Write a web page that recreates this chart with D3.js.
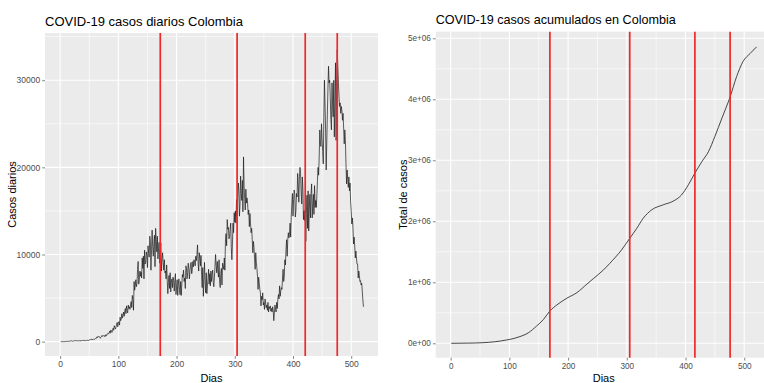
<!DOCTYPE html>
<html>
<head>
<meta charset="utf-8">
<script src="https://cdn.jsdelivr.net/npm/d3@7"></script>
<style>
    body { margin: 0; background: #fff; }
    svg text { font-family: 'Liberation Sans', Arial, sans-serif; }
</style>
</head>
<body>
<div id="vis"></div>
<script>
// casos diarios, dia 1 .. 521
var casosDiarios = [
    1,0,0,0,2,0,6,0,9,8,
    15,20,36,37,30,38,79,71,75,101,
    46,49,80,93,94,103,131,96,81,98,
    90,98,61,146,91,110,117,130,113,167,
    78,120,75,131,120,191,144,101,136,215,
    208,236,253,279,180,269,300,234,267,319,
    376,360,542,470,600,520,595,490,380,510,
    563,720,600,630,705,680,560,786,650,712,
    923,868,890,1018,1200,960,1340,1250,1056,1280,
    1540,1300,1820,1600,1450,1700,2000,2200,1700,2100,
    2300,1900,2800,2400,2600,3200,2700,3000,3400,2900,
    3500,3800,3200,4100,3600,3300,4200,3800,4000,3700,
    4200,4600,3900,5300,4800,3600,6900,5900,6400,7100,
    6300,6700,8300,9200,6600,7100,8100,7500,8000,7300,
    9600,8400,9800,7200,10500,8900,9100,10300,9900,8500,
    11000,10100,9700,12100,11500,8200,10600,12800,10900,9800,
    11300,12200,8600,13000,11700,10300,12100,9500,10700,11400,
    9000,10500,11300,8100,9500,10200,9100,8200,9400,7900,
    8100,7200,8800,7000,5500,6800,7600,6100,7900,5700,
    6800,7200,6200,7400,7000,5800,6900,7800,5400,6300,
    7100,5300,6600,7200,6000,5400,6900,5300,6500,7700,
    7400,8200,6900,7300,6100,8700,8500,7200,7900,9000,
    8400,7200,8100,8800,9100,7800,8300,9200,8600,9400,
    9100,8700,9800,9300,10000,11100,9000,8100,10200,9600,
    8700,9900,7600,6200,8500,5200,7300,9100,6800,5600,
    7900,5500,6400,7200,8300,6600,7800,6400,8100,6900,
    7700,8200,6800,6300,7400,8600,10000,8800,7900,9200,
    8100,7400,9400,6800,6200,7900,8400,6500,9000,8700,
    8300,9600,8200,11700,12400,11000,14000,12900,13100,11800,
    12000,12900,13600,10800,9400,11300,13600,12500,14800,13700,
    15000,13600,16300,14400,16600,18200,17300,14400,15800,19000,
    17000,16200,18500,14900,21200,17800,16400,15100,17500,15900,
    16500,15900,14600,15100,13200,14700,13600,12500,13000,11700,
    10200,11500,10800,9500,8300,10200,9100,8400,7500,6000,
    7400,6700,6000,5600,4100,5200,4800,5600,4200,4500,
    3700,4900,4400,3900,4200,3600,4500,3400,4000,3800,
    4100,3500,3800,3400,4000,3600,2400,3300,4200,3700,
    3400,4500,3800,4900,5400,4900,6400,5200,5800,6200,
    6000,7300,8300,6900,7500,9400,8800,10600,11700,9800,
    11700,12500,11900,12300,13600,12000,14400,15800,17000,14400,
    16300,17400,16900,14300,15000,17000,16600,19300,18100,16000,
    18900,20000,19300,17200,15800,18900,17500,14000,15000,13900,
    15100,11500,14700,16800,13000,17300,12700,15200,16900,14200,
    17000,18100,14200,15800,16900,14600,17900,15400,16200,15400,
    16800,18500,20000,19100,21200,24300,22600,22400,25000,23100,
    21800,20400,25800,30000,27300,24300,19700,22800,26100,29000,
    31600,29700,30000,28100,25500,24300,29700,27100,25800,30000,
    23500,27600,32000,23100,30100,33500,31400,29700,28100,27000,
    27400,26200,27000,26500,25400,26200,24500,22700,24300,23100,
    20400,18100,19700,18600,17700,18900,17300,18200,16000,15000,
    13500,14200,13100,11200,12000,11000,9600,10400,9600,8900,
    8900,7300,8100,7600,6900,7000,6500,6700,5800,4800,4000
];

// casos acumulados
var acumDias = [1, 30, 55, 75, 95, 108, 118, 132, 146, 158, 169, 181, 198, 215, 232, 243, 260, 271,
    291, 305, 317, 328, 342, 362, 379, 393, 405, 416, 428, 439, 450, 462, 476, 487, 498, 510, 521];
var acumCasos = [0, 3000, 10000, 25000, 54000, 80000, 110000, 170000, 280000, 390000, 530000, 630000,
    740000, 830000, 970000, 1060000, 1200000, 1310000, 1530000, 1720000, 1885000, 2050000, 2185000,
    2270000, 2330000, 2430000, 2600000, 2790000, 2980000, 3140000, 3390000, 3690000, 4040000,
    4370000, 4620000, 4750000, 4860000];

var cortesDiarios = [172, 304, 421, 476];
var cortesAcum = [169, 305, 416, 476];

var ticksDias = [0, 100, 200, 300, 400, 500];
var ticksDiarios = [0, 10000, 20000, 30000];
var ticksAcum = [0, 1e6, 2e6, 3e6, 4e6, 5e6];
var labelsAcum = ['0e+00', '1e+06', '2e+06', '3e+06', '4e+06', '5e+06'];

var svg = d3.select('#vis')
    .append('svg')
    .attr('width', 764)
    .attr('height', 383);

var dias = d3.range(1, casosDiarios.length + 1);
var serieDiaria = dias.map(function(d, i) { return {x: d, y: casosDiarios[i]}; });
var serieAcum = acumDias.map(function(d, i) { return {x: d, y: acumCasos[i]}; });

var drawPanel = function(opts) {
    var xScale = d3.scaleLinear().domain(opts.xDomain).range([opts.left, opts.right]);
    var yScale = d3.scaleLinear().domain(opts.yDomain).range([opts.bottom, opts.top]);

    var g = svg.append('g');

    g.append('rect')
        .attr('x', opts.left)
        .attr('y', opts.top)
        .attr('width', opts.right - opts.left)
        .attr('height', opts.bottom - opts.top)
        .attr('fill', '#EBEBEB');

    // grid menor
    var xMinor = ticksDias.map(function(d) { return d + 50; })
        .concat([-50]).filter(function(d) { return d > opts.xDomain[0] && d < opts.xDomain[1]; });
    var yStep = opts.yTicks[1] - opts.yTicks[0];
    var yMinor = opts.yTicks.map(function(d) { return d + yStep / 2; })
        .filter(function(d) { return d > opts.yDomain[0] && d < opts.yDomain[1]; });

    g.selectAll('.xminor').data(xMinor).enter().append('line')
        .attr('x1', function(d) { return xScale(d); })
        .attr('x2', function(d) { return xScale(d); })
        .attr('y1', opts.top).attr('y2', opts.bottom)
        .attr('stroke', '#fff').attr('stroke-width', 0.6);

    g.selectAll('.yminor').data(yMinor).enter().append('line')
        .attr('x1', opts.left).attr('x2', opts.right)
        .attr('y1', function(d) { return yScale(d); })
        .attr('y2', function(d) { return yScale(d); })
        .attr('stroke', '#fff').attr('stroke-width', 0.6);

    g.selectAll('.xmajor').data(ticksDias).enter().append('line')
        .attr('x1', function(d) { return xScale(d); })
        .attr('x2', function(d) { return xScale(d); })
        .attr('y1', opts.top).attr('y2', opts.bottom)
        .attr('stroke', '#fff').attr('stroke-width', 1.1);

    g.selectAll('.ymajor').data(opts.yTicks).enter().append('line')
        .attr('x1', opts.left).attr('x2', opts.right)
        .attr('y1', function(d) { return yScale(d); })
        .attr('y2', function(d) { return yScale(d); })
        .attr('stroke', '#fff').attr('stroke-width', 1.1);

    var line = d3.line()
        .x(function(d) { return xScale(d.x); })
        .y(function(d) { return yScale(d.y); });
    if (opts.curve) line.curve(opts.curve);

    g.append('path')
        .datum(opts.data)
        .attr('d', line)
        .attr('fill', 'none')
        .attr('stroke', '#1a1a1a')
        .attr('stroke-width', opts.lineWidth)
        .attr('stroke-linejoin', 'round');

    g.selectAll('.corte').data(opts.cortes).enter().append('line')
        .attr('x1', function(d) { return xScale(d); })
        .attr('x2', function(d) { return xScale(d); })
        .attr('y1', opts.top).attr('y2', opts.bottom)
        .attr('stroke', '#F02828').attr('stroke-width', 1.7);

    // ejes
    var xAxis = d3.axisBottom(xScale).tickValues(ticksDias).tickSize(2.8).tickPadding(2.5);
    var yAxis = d3.axisLeft(yScale).tickValues(opts.yTicks).tickSize(2.8).tickPadding(2)
        .tickFormat(function(d, i) { return opts.yLabels ? opts.yLabels[i] : d; });

    var gx = svg.append('g')
        .attr('transform', 'translate(0,' + opts.bottom + ')')
        .call(xAxis);
    var gy = svg.append('g')
        .attr('transform', 'translate(' + opts.left + ',0)')
        .call(yAxis);

    [gx, gy].forEach(function(a) {
        a.select('.domain').remove();
        a.selectAll('.tick line').attr('stroke', '#333').attr('stroke-width', 0.6);
        a.selectAll('.tick text')
            .attr('fill', '#4D4D4D')
            .style('font-size', opts.tickFont + 'px');
    });

    svg.append('text')
        .attr('x', opts.left)
        .attr('y', opts.titleY)
        .attr('fill', '#000')
        .style('font-size', opts.titleFont + 'px')
        .text(opts.title);

    svg.append('text')
        .attr('x', (opts.left + opts.right) / 2)
        .attr('y', 381.5)
        .attr('text-anchor', 'middle')
        .attr('fill', '#000')
        .style('font-size', '11px')
        .text('Dias');

    svg.append('text')
        .attr('transform', 'translate(' + opts.yTitleX + ',' + ((opts.top + opts.bottom) / 2) + ')rotate(-90)')
        .attr('text-anchor', 'middle')
        .attr('fill', '#000')
        .style('font-size', '11px')
        .text(opts.yTitle);
};

drawPanel({
    left: 45, right: 378, top: 33, bottom: 356,
    xDomain: [-26, 546], yDomain: [-1650, 35420],
    yTicks: ticksDiarios, yLabels: null,
    data: serieDiaria, cortes: cortesDiarios, lineWidth: 0.7,
    title: 'COVID-19 casos diarios Colombia', titleY: 26, titleFont: 13,
    yTitle: 'Casos diarios', yTitleX: 16, tickFont: 8.5
});

drawPanel({
    left: 435.7, right: 771.8, top: 31.7, bottom: 357.7,
    xDomain: [-25.5, 547], yDomain: [-236000, 5108000],
    yTicks: ticksAcum, yLabels: labelsAcum,
    data: serieAcum, cortes: cortesAcum, lineWidth: 0.8, curve: d3.curveMonotoneX,
    title: 'COVID-19 casos acumulados en Colombia', titleY: 24, titleFont: 12.6,
    yTitle: 'Total de casos', yTitleX: 407, tickFont: 8.2
});
</script>
</body>
</html>
